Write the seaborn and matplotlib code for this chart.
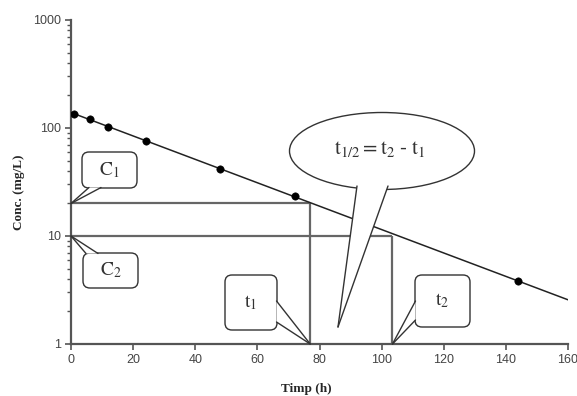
import numpy as np
import matplotlib
matplotlib.use("Agg")
import matplotlib.pyplot as plt
import matplotlib.transforms as mtransforms
from matplotlib.patches import FancyBboxPatch, Ellipse, Polygon
import seaborn as sns

# data
time_h = [1, 6, 12, 24, 48, 72, 144]
conc = [136, 120, 103, 75, 42, 23.5, 3.8]
c1, c2 = 20, 10
t1, t2 = 77, 103.5
x_ticks = [0, 20, 40, 60, 80, 100, 120, 140, 160]
y_ticks = [1, 10, 100, 1000]
y_labels = ["1", "10", "100", "1000"]

W, H, DPI = 577, 396, 100

sns.set_style("ticks")
plt.rcParams["font.family"] = ["Liberation Sans", "DejaVu Sans"]
plt.rcParams["mathtext.fontset"] = "stix"

fig = plt.figure(figsize=(W / DPI, H / DPI), dpi=DPI)
ax = fig.add_axes([71 / W, 1 - 344 / H, (568 - 71) / W, (344 - 20) / H])

# log-linear fit through the measured points
slope, icept = np.polyfit(time_h, np.log10(conc), 1)
fit_t = np.array([0, 160])
fit_c = 10 ** (icept + slope * fit_t)

grey = "#555555"
ax.hlines([c1, c2], 0, [t1, t2], color="#666666", lw=1.6, zorder=2)
ax.vlines([t1, t2], 1, [c1, c2], color="#666666", lw=1.6, zorder=2)
sns.lineplot(x=fit_t, y=fit_c, ax=ax, color="#222222", lw=1.1, zorder=3)
sns.scatterplot(x=time_h, y=conc, ax=ax, color="black", s=28, edgecolor="black", zorder=4)

ax.set_yscale("log")
ax.set_xlim(0, 160)
ax.set_ylim(1, 1000)
ax.set_xticks(x_ticks)
ax.set_yticks(y_ticks)
ax.set_yticklabels(y_labels)
ax.tick_params(axis="both", labelsize=9, colors=grey, labelcolor="#444444", length=4, width=1.2)
ax.tick_params(axis="y", which="minor", length=3, width=1, colors=grey)
for s in ["top", "right"]:
    ax.spines[s].set_visible(False)
for s in ["left", "bottom"]:
    ax.spines[s].set_color(grey)
    ax.spines[s].set_linewidth(1.6)
ax.set_xlabel("")
ax.set_ylabel("")

serif = ["Liberation Serif", "DejaVu Serif"]
fig.text(19 / W, 1 - 192 / H, "Conc. (mg/L)", rotation=90, ha="center", va="center",
         fontsize=9.5, fontweight="bold", family=serif)
fig.text(306 / W, 1 - 389 / H, "Timp (h)", ha="center", va="center",
         fontsize=9.5, fontweight="bold", family=serif)

# pixel transform, origin top-left
PX = mtransforms.Affine2D().scale(1 / DPI, -1 / DPI).translate(0, H / DPI) + fig.dpi_scale_trans


def to_px(x, y):
    return PX.inverted().transform(ax.transData.transform((x, y)))


def tail(b1, b2, tip):
    poly = Polygon([b1, b2, tip], closed=True, fc="white", ec="none",
                   transform=PX, zorder=6, clip_on=False)
    fig.add_artist(poly)
    for b in (b1, b2):
        fig.add_artist(plt.Line2D([b[0], tip[0]], [b[1], tip[1]], color="#333333",
                                  lw=1.0, transform=PX, zorder=7))


def callout(x0, y0, x1, y1, label, b1, b2, tip):
    box = FancyBboxPatch((x0, y0), x1 - x0, y1 - y0, boxstyle="round,pad=0,rounding_size=7",
                         fc="white", ec="#333333", lw=1.0, transform=PX, zorder=5)
    fig.add_artist(box)
    tail(b1, b2, tip)
    fig.text((x0 + x1) / 2 / W, 1 - (y0 + y1) / 2 / H, label, ha="center", va="center",
             fontsize=14, color="#333333", zorder=8)


callout(82, 152, 137, 188, r"$\mathrm{C_1}$", (89, 187.5), (101, 187.5), to_px(0, c1))
callout(83, 253, 138, 288, r"$\mathrm{C_2}$", (86, 253.5), (98, 253.5), to_px(0, c2))
callout(225, 275, 277, 330, r"$\mathrm{t_1}$", (276.5, 301), (276.5, 322), to_px(t1, 1))
callout(415, 275, 470, 327, r"$\mathrm{t_2}$", (415.5, 301), (415.5, 320), to_px(t2, 1))

ell = Ellipse((382, 151), 185, 77, fc="white", ec="#333333", lw=1.0, transform=PX, zorder=5)
fig.add_artist(ell)
tail((357, 186), (388, 186), (338, 327))
fig.text(380 / W, 1 - 149 / H, r"$\mathrm{t_{1/2} = t_2\ \text{-}\ t_1}$", ha="center", va="center",
         fontsize=15, color="#333333", zorder=8)

fig.savefig("out.png", dpi=DPI, facecolor="white")
